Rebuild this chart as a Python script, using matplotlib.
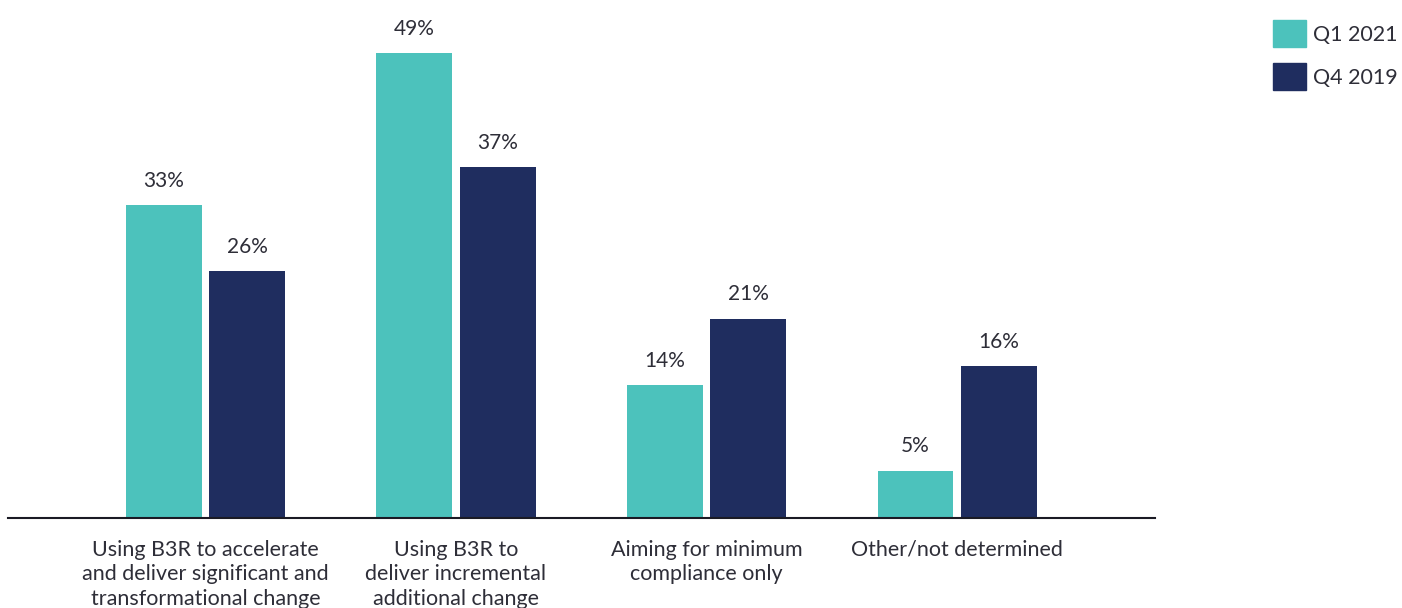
import numpy as np
import matplotlib
matplotlib.use('Agg')
import matplotlib.pyplot as plt
from matplotlib.patches import Patch

categories = ['Using B3R to accelerate\nand deliver significant and\ntransformational change',
              'Using B3R to\ndeliver incremental\nadditional change',
              'Aiming for minimum\ncompliance only',
              'Other/not determined']
q1_2021 = [33, 49, 14, 5]
q4_2019 = [26, 37, 21, 16]
series_names = ['Q1 2021', 'Q4 2019']

teal = '#4CC2BC'
navy = '#1F2D5F'
txt = '#2E2E38'

plt.rcParams['font.family'] = ['Lato', 'DejaVu Sans']

fig = plt.figure(figsize=(14.02, 6.08), dpi=100)
ax = fig.add_axes([8/1402, 90/608, (1155-8)/1402, 518/608])

x = np.arange(len(categories))
w = 0.303
off = 0.166
b1 = ax.bar(x - off, q1_2021, w, color=teal, label=series_names[0])
b2 = ax.bar(x + off, q4_2019, w, color=navy, label=series_names[1])

for bars, vals in [(b1, q1_2021), (b2, q4_2019)]:
    for b, v in zip(bars, vals):
        ax.annotate('%d%%' % v, (b.get_x() + b.get_width()/2, v),
                    xytext=(0, 17.5), textcoords='offset points',
                    ha='center', va='center', fontsize=15, color=txt)

ax.set_xlim(-0.788, 3.79)
ax.set_ylim(0, 54.6)
ax.set_xticks(x)
ax.set_xticklabels(categories, fontsize=15.5, color=txt, linespacing=1.3)
ax.tick_params(axis='x', length=0, pad=15.5)
ax.set_yticks([])
for s in ['top', 'right', 'left']:
    ax.spines[s].set_visible(False)
ax.spines['bottom'].set_color('#1a1a24')
ax.spines['bottom'].set_linewidth(1.5)

handles = [Patch(color=teal), Patch(color=navy)]
fig.legend(handles, series_names, loc='upper left', bbox_to_anchor=(1254/1402, 1 - 1/608),
           frameon=False, fontsize=15.5, handlelength=1.5, handleheight=1.55,
           labelspacing=0.75, handletextpad=0.35, labelcolor=txt)

fig.savefig('out.png', dpi=100)
